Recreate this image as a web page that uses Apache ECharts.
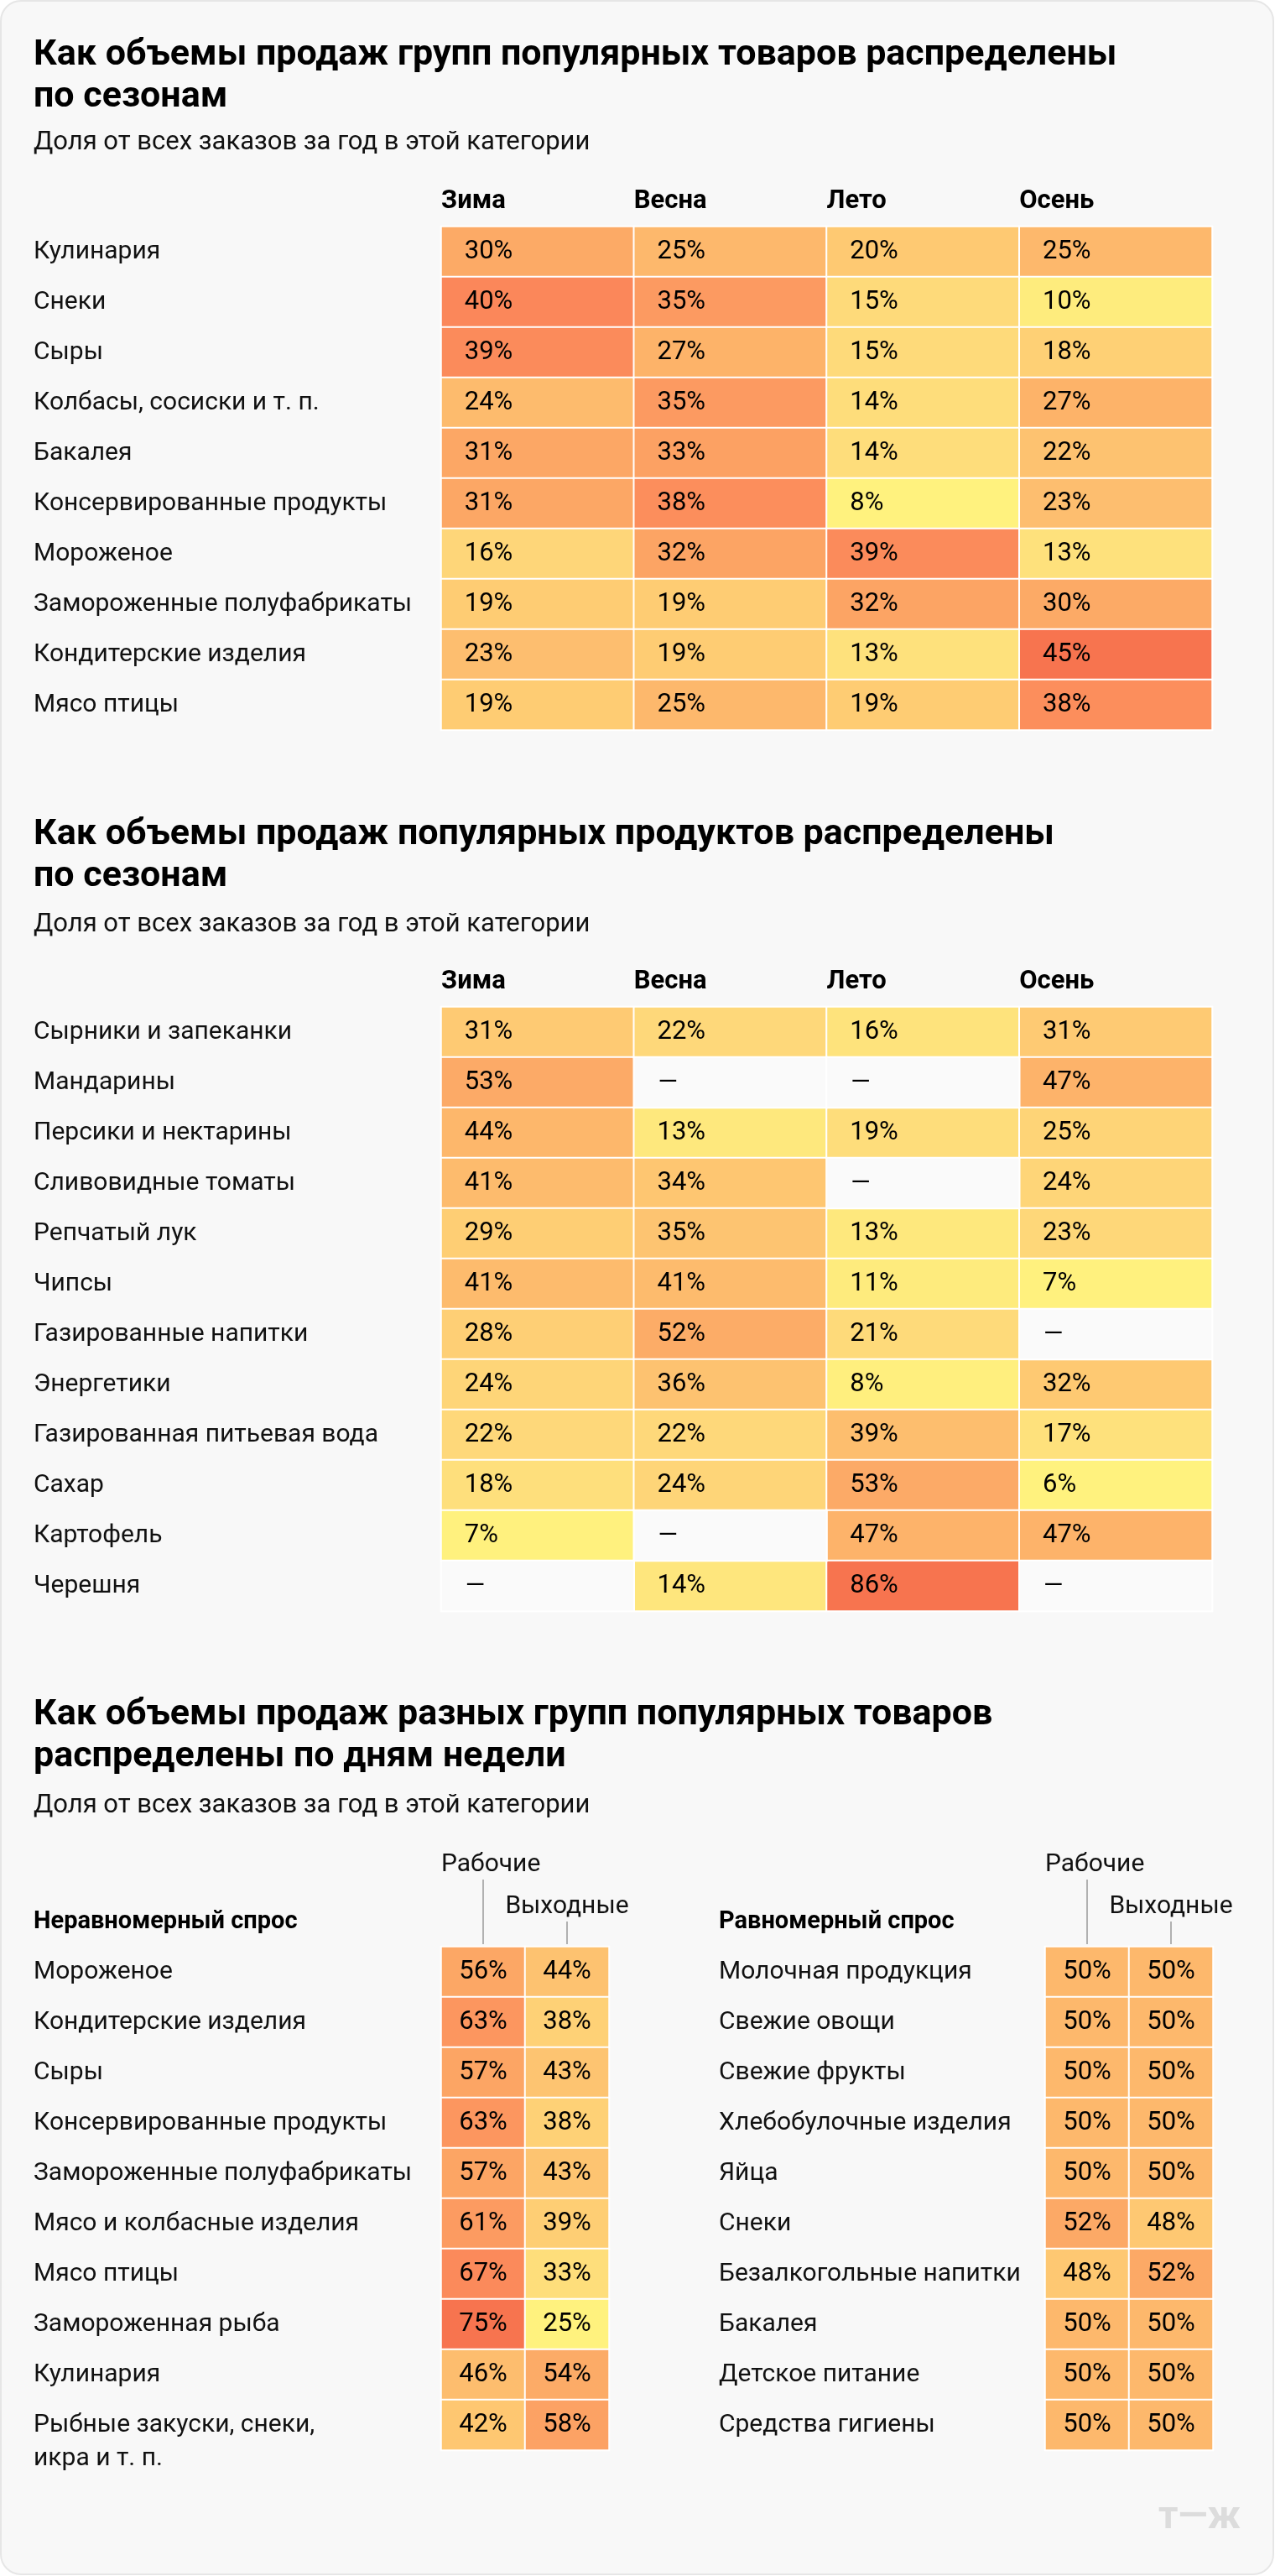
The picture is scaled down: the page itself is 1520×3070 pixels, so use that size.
<!DOCTYPE html>
<html>
<head>
<meta charset="utf-8">
<script src="https://cdn.jsdelivr.net/npm/echarts@6/dist/echarts.min.js"></script>
<style>
html,body{margin:0;padding:0;background:#ffffff;}
#chart{width:1520px;height:3070px;}
</style>
</head>
<body>
<div id="chart"></div>
<script>
// ---------- DATA ----------
const seasons = ['Зима', 'Весна', 'Лето', 'Осень'];

const groups1 = ['Кулинария', 'Снеки', 'Сыры', 'Колбасы, сосиски и т. п.', 'Бакалея',
  'Консервированные продукты', 'Мороженое', 'Замороженные полуфабрикаты', 'Кондитерские изделия', 'Мясо птицы'];
const winter1 = [30, 40, 39, 24, 31, 31, 16, 19, 23, 19];
const spring1 = [25, 35, 27, 35, 33, 38, 32, 19, 19, 25];
const summer1 = [20, 15, 15, 14, 14, 8, 39, 32, 13, 19];
const autumn1 = [25, 10, 18, 27, 22, 23, 13, 30, 45, 38];

const products2 = ['Сырники и запеканки', 'Мандарины', 'Персики и нектарины', 'Сливовидные томаты',
  'Репчатый лук', 'Чипсы', 'Газированные напитки', 'Энергетики', 'Газированная питьевая вода',
  'Сахар', 'Картофель', 'Черешня'];
const winter2 = [31, 53, 44, 41, 29, 41, 28, 24, 22, 18, 7, null];
const spring2 = [22, null, 13, 34, 35, 41, 52, 36, 22, 24, null, 14];
const summer2 = [16, null, 19, null, 13, 11, 21, 8, 39, 53, 47, 86];
const autumn2 = [31, 47, 25, 24, 23, 7, null, 32, 17, 6, 47, null];

const dayTypes = ['Рабочие', 'Выходные'];
const unevenGroups = ['Мороженое', 'Кондитерские изделия', 'Сыры', 'Консервированные продукты',
  'Замороженные полуфабрикаты', 'Мясо и колбасные изделия', 'Мясо птицы', 'Замороженная рыба',
  'Кулинария', 'Рыбные закуски, снеки,\nикра и т. п.'];
const unevenWork = [56, 63, 57, 63, 57, 61, 67, 75, 46, 42];
const unevenWeekend = [44, 38, 43, 38, 43, 39, 33, 25, 54, 58];

const evenGroups = ['Молочная продукция', 'Свежие овощи', 'Свежие фрукты', 'Хлебобулочные изделия',
  'Яйца', 'Снеки', 'Безалкогольные напитки', 'Бакалея', 'Детское питание', 'Средства гигиены'];
const evenWork = [50, 50, 50, 50, 50, 52, 48, 50, 50, 50];
const evenWeekend = [50, 50, 50, 50, 50, 48, 52, 50, 50, 50];

// ---------- HELPERS ----------
const FONT = 'Roboto';
const palette = ['#fff27e', '#fee67d', '#fed87a', '#fecc73', '#fdbf6f', '#fdb46a',
  '#fca966', '#fc9e62', '#fc905d', '#fa8258', '#f7744f'];

function toCells(columns) {
  const present = [], missing = [];
  columns.forEach((col, x) => col.forEach((v, y) => {
    if (v === null || v === undefined) missing.push([x, y, 0]);
    else present.push([x, y, v]);
  }));
  return { present, missing };
}
function range(cells) {
  const vals = cells.map(c => c[2]);
  return [Math.min(...vals), Math.max(...vals)];
}

const t1 = toCells([winter1, spring1, summer1, autumn1]);
const t2 = toCells([winter2, spring2, summer2, autumn2]);
const t3L = toCells([unevenWork, unevenWeekend]);
const t3R = toCells([evenWork, evenWeekend]);

const valueLabel = (pos, dist) => ({
  show: true, position: pos, distance: dist, padding: [4, 0, 0, 0],
  formatter: p => p.value[2] + '%',
  fontFamily: FONT, fontSize: 31, color: '#000'
});
const cellStyle = { borderColor: '#ffffff', borderWidth: 2 };

function catX(gridIndex, data) {
  return { type: 'category', gridIndex, data, show: false };
}
function catY(gridIndex, data, margin) {
  return {
    type: 'category', gridIndex, data, inverse: true,
    axisLine: { show: false }, axisTick: { show: false }, splitLine: { show: false },
    axisLabel: {
      interval: 0, align: 'left', margin, fontFamily: FONT, fontSize: 30, color: '#111',
      lineHeight: 40, padding: [4, 0, 0, 0],
      formatter: v => (v.indexOf('\n') >= 0 ? '\n' + v : v)
    }
  };
}
function seasonAxis(gridIndex) {
  return {
    type: 'value', gridIndex, position: 'top', min: 0, max: seasons.length, interval: 1,
    axisLine: { show: false }, axisTick: { show: false }, splitLine: { show: false },
    axisLabel: {
      align: 'left', margin: 14, fontFamily: FONT, fontSize: 31, fontWeight: 'bold', color: '#000',
      formatter: v => seasons[v] || ''
    }
  };
}
function dayHeader(xAxisIndex, yAxisIndex) {
  return {
    type: 'custom', xAxisIndex, yAxisIndex, clip: false, silent: true, z: 5,
    data: dayTypes.map((d, i) => [i, 0, d]),
    renderItem: (params, api) => {
      const i = api.value(0);
      const c = api.coord([i, 0]);
      const w = api.size([1, 0])[0];
      const top = params.coordSys.y;
      const high = i === 0;
      const textY = high ? top - 98 : top - 48;
      const lineTop = high ? top - 80 : top - 30;
      return {
        type: 'group',
        children: [
          { type: 'line', shape: { x1: c[0], y1: lineTop, x2: c[0], y2: top - 3 },
            style: { stroke: '#9a9a9a', lineWidth: 1.5 } },
          { type: 'text', x: high ? c[0] - w / 2 : c[0], y: textY,
            style: { text: dayTypes[i], fontFamily: FONT, fontSize: 30, fill: '#111',
              align: high ? 'left' : 'center', verticalAlign: 'middle' } }
        ]
      };
    }
  };
}

const titleStyle = { fontFamily: FONT, fontSize: 43, fontWeight: 'bold', lineHeight: 50, color: '#000' };
const subStyle = { fontFamily: FONT, fontSize: 31, fontWeight: 'normal', lineHeight: 30, color: '#111' };
const groupStyle = { fontFamily: FONT, fontSize: 29, fontWeight: 'bold', lineHeight: 28, color: '#000' };

const option = {
  animation: false,
  backgroundColor: 'transparent',
  graphic: {
    elements: [
      { type: 'rect', z: -10, shape: { x: 1, y: 1, width: 1517, height: 3067, r: 24 },
        style: { fill: '#f8f8f8', stroke: '#e6e6e6', lineWidth: 2 } },
      { type: 'text', z: 10, right: 41, top: 2978,
        style: { text: 'т—ж', fontFamily: FONT, fontSize: 46, fontWeight: 'bold', fill: '#dcdcdc' } }
    ]
  },
  title: [
    { text: 'Как объемы продаж групп популярных товаров распределены\nпо сезонам', left: 40, top: 41, padding: 0, textStyle: titleStyle },
    { text: 'Доля от всех заказов за год в этой категории', left: 40, top: 155, padding: 0, textStyle: subStyle },
    { text: 'Как объемы продаж популярных продуктов распределены\nпо сезонам', left: 40, top: 970, padding: 0, textStyle: titleStyle },
    { text: 'Доля от всех заказов за год в этой категории', left: 40, top: 1087, padding: 0, textStyle: subStyle },
    { text: 'Как объемы продаж разных групп популярных товаров\nраспределены по дням недели', left: 40, top: 2019, padding: 0, textStyle: titleStyle },
    { text: 'Доля от всех заказов за год в этой категории', left: 40, top: 2137, padding: 0, textStyle: subStyle },
    { text: 'Неравномерный спрос', left: 40, top: 2277, padding: 0, textStyle: groupStyle },
    { text: 'Равномерный спрос', left: 857, top: 2277, padding: 0, textStyle: groupStyle }
  ],
  grid: [
    { left: 526, top: 270, width: 919, height: 600 },
    { left: 526, top: 1200, width: 919, height: 720 },
    { left: 526, top: 2320, width: 200, height: 600 },
    { left: 1246, top: 2320, width: 200, height: 600 }
  ],
  xAxis: [
    catX(0, seasons), seasonAxis(0),
    catX(1, seasons), seasonAxis(1),
    catX(2, dayTypes),
    catX(3, dayTypes)
  ],
  yAxis: [
    catY(0, groups1, 486),
    catY(1, products2, 486),
    catY(2, unevenGroups, 486),
    catY(3, evenGroups, 389)
  ],
  visualMap: [
    { type: 'continuous', show: false, seriesIndex: 0, dimension: 2, min: range(t1.present)[0], max: range(t1.present)[1], inRange: { color: palette } },
    { type: 'continuous', show: false, seriesIndex: 1, dimension: 2, min: range(t2.present)[0], max: range(t2.present)[1], inRange: { color: palette } },
    { type: 'continuous', show: false, seriesIndex: 3, dimension: 2, min: range(t3L.present)[0], max: range(t3L.present)[1], inRange: { color: palette } },
    { type: 'continuous', show: false, seriesIndex: 4, dimension: 2, min: 43, max: 58, inRange: { color: palette } }
  ],
  series: [
    { type: 'heatmap', xAxisIndex: 0, yAxisIndex: 0, data: t1.present, itemStyle: cellStyle, label: valueLabel('insideLeft', 29) },
    { type: 'heatmap', xAxisIndex: 2, yAxisIndex: 1, data: t2.present, itemStyle: cellStyle, label: valueLabel('insideLeft', 29) },
    { type: 'heatmap', xAxisIndex: 2, yAxisIndex: 1, data: t2.missing,
      itemStyle: { color: '#fafafa', borderColor: '#ffffff', borderWidth: 2 },
      label: { show: true, position: 'insideLeft', distance: 30, padding: [4, 0, 0, 0], formatter: '—', fontFamily: FONT, fontSize: 30, color: '#000' } },
    { type: 'heatmap', xAxisIndex: 4, yAxisIndex: 2, data: t3L.present, itemStyle: cellStyle, label: valueLabel('inside', 0) },
    { type: 'heatmap', xAxisIndex: 5, yAxisIndex: 3, data: t3R.present, itemStyle: cellStyle, label: valueLabel('inside', 0) },
    dayHeader(4, 2),
    dayHeader(5, 3)
  ]
};

const chart = echarts.init(document.getElementById('chart'), null, { renderer: 'canvas' });
chart.setOption(option);
</script>
</body>
</html>
